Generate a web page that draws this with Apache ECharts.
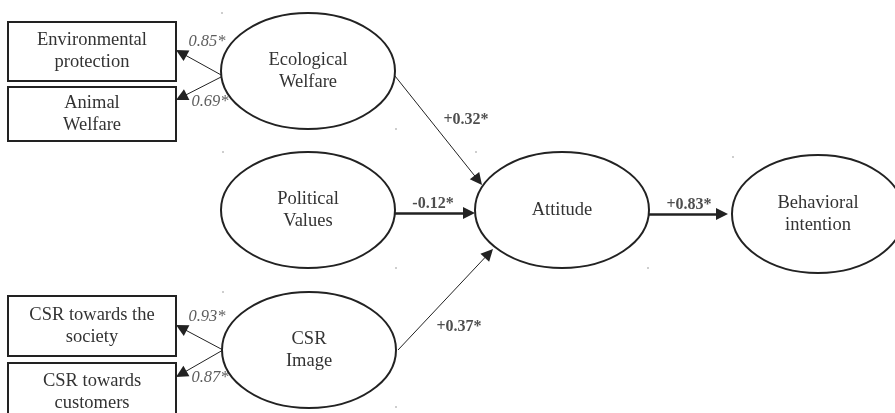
<!DOCTYPE html>
<html>
<head>
<meta charset="utf-8">
<script src="https://cdn.jsdelivr.net/npm/echarts@6/dist/echarts.min.js"></script>
<style>
  html, body { margin: 0; padding: 0; background: #fff; }
  #chart { width: 895px; height: 413px; }
</style>
</head>
<body>
<div id="chart"></div>
<script>
// names shown in the diagram
const latentNames = ['Ecological\nWelfare', 'Political\nValues', 'Attitude', 'Behavioral\nintention', 'CSR\nImage'];
const indicatorNames = ['Environmental\nprotection', 'Animal\nWelfare', 'CSR towards the\nsociety', 'CSR towards\ncustomers'];
// factor loadings (latent -> indicator) and structural paths
const loadings = ['0.85*', '0.69*', '0.93*', '0.87*'];
const pathCoefs = ['+0.32*', '-0.12*', '+0.37*', '+0.83*'];
// scan specks at the ellipse bounding box corners
const cornerDots = [[222, 13], [396, 129], [223, 152], [476, 152], [396, 268], [733, 157], [648, 268], [223, 292], [396, 407]];

// layout (pixel space, y downwards)
const latentPos = [[308, 71], [308, 210], [562, 210], [818, 214], [309, 350]];
const latentSize = [[174, 116], [174, 116], [174, 116], [172, 118], [174, 116]];
const indicatorPos = [[92, 51.5], [92, 114], [92, 326], [92, 392]];
const indicatorSize = [[168, 59], [168, 54], [168, 60], [168, 58]];
const loadingEdges = [[[223, 76], [176, 50]], [[223, 76], [176, 100]], [[223, 350], [176, 325]], [[223, 350], [176, 377]]];
const loadingLabelPos = [[207, 42], [210, 102], [207, 317], [210, 378]];
const pathEdges = [[[395, 76], [482, 185]], [[395, 213], [475, 213]], [[398, 350], [493, 249]], [[648, 214], [728, 214]]];
const pathWidths = [1, 2.5, 1, 2.5];
const pathLabelPos = [[466, 120], [433, 204], [459, 327], [689, 205]];

const ARROW = 12;
const serif = '"Liberation Serif", "DejaVu Serif", serif';

// pull the line end back so the triangle tip lands on the target point
function arrowCoords(edge) {
  const [a, b] = edge;
  const dx = b[0] - a[0], dy = b[1] - a[1];
  const len = Math.sqrt(dx * dx + dy * dy);
  const k = (len - ARROW / 2) / len;
  return [a, [a[0] + dx * k, a[1] + dy * k]];
}

const lineData = loadingEdges.map(e => ({ coords: arrowCoords(e), lineStyle: { width: 1 } }))
  .concat(pathEdges.map((e, i) => ({ coords: arrowCoords(e), lineStyle: { width: pathWidths[i] } })));

function nodeText(name, c) {
  return {
    type: 'text',
    style: {
      text: name, x: c[0], y: c[1], align: 'center', verticalAlign: 'middle',
      fontFamily: serif, fontSize: 18.5, lineHeight: 22, fill: '#333'
    }
  };
}

// ellipses drawn as real shapes so the stroke keeps an even width
function renderLatent(params, api) {
  const i = params.dataIndex;
  const c = api.coord([api.value(0), api.value(1)]);
  const s = api.size(latentSize[i]);
  return {
    type: 'group',
    children: [
      { type: 'ellipse', shape: { cx: c[0], cy: c[1], rx: s[0] / 2, ry: s[1] / 2 },
        style: { fill: '#fff', stroke: '#222', lineWidth: 2 } },
      nodeText(latentNames[i], c)
    ]
  };
}

function renderIndicator(params, api) {
  const i = params.dataIndex;
  const c = api.coord([api.value(0), api.value(1)]);
  const s = api.size(indicatorSize[i]);
  return {
    type: 'group',
    children: [
      { type: 'rect', shape: { x: c[0] - s[0] / 2, y: c[1] - s[1] / 2, width: s[0], height: s[1] },
        style: { fill: '#fff', stroke: '#222', lineWidth: 2 } },
      nodeText(indicatorNames[i], c)
    ]
  };
}

const chart = echarts.init(document.getElementById('chart'));

chart.setOption({
  animation: false,
  backgroundColor: '#fff',
  grid: { left: 0, right: 0, top: 0, bottom: 0 },
  xAxis: { type: 'value', min: 0, max: 895, show: false },
  yAxis: { type: 'value', min: 0, max: 413, inverse: true, show: false },
  series: [
    {
      type: 'scatter',
      name: 'corners',
      symbol: 'circle',
      symbolSize: 1.6,
      itemStyle: { color: '#777' },
      data: cornerDots,
      z: 1
    },
    {
      type: 'lines',
      coordinateSystem: 'cartesian2d',
      polyline: false,
      symbol: ['none', 'triangle'],
      symbolSize: ARROW,
      lineStyle: { color: '#222', opacity: 1, curveness: 0 },
      itemStyle: { color: '#222' },
      data: lineData,
      z: 2
    },
    {
      type: 'custom',
      name: 'latent',
      renderItem: renderLatent,
      data: latentPos,
      z: 3
    },
    {
      type: 'custom',
      name: 'indicators',
      renderItem: renderIndicator,
      data: indicatorPos,
      z: 3
    },
    {
      type: 'scatter',
      name: 'loadings',
      symbolSize: 0,
      label: {
        show: true, position: 'inside', formatter: p => p.name,
        fontFamily: serif, fontSize: 16.5, fontStyle: 'italic', color: '#333'
      },
      data: loadings.map((n, i) => ({ name: n, value: loadingLabelPos[i] })),
      z: 4
    },
    {
      type: 'scatter',
      name: 'paths',
      symbolSize: 0,
      label: {
        show: true, position: 'inside', formatter: p => p.name,
        fontFamily: serif, fontSize: 16, fontWeight: 'bold', color: '#222'
      },
      data: pathCoefs.map((n, i) => ({ name: n, value: pathLabelPos[i] })),
      z: 4
    }
  ]
});
</script>
</body>
</html>
